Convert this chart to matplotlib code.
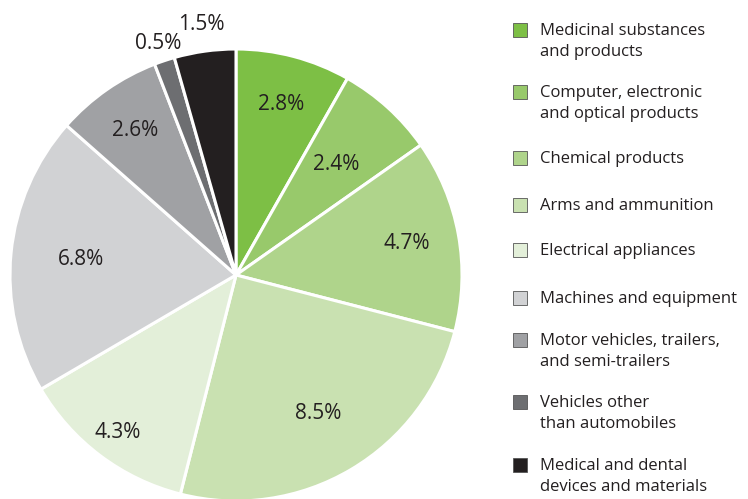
import numpy as np
import matplotlib.pyplot as plt

plt.rcParams['font.family'] = ['Open Sans', 'DejaVu Sans']

# export shares by product group
categories = [
    "Medicinal substances\nand products",
    "Computer, electronic\nand optical products",
    "Chemical products",
    "Arms and ammunition",
    "Electrical appliances",
    "Machines and equipment",
    "Motor vehicles, trailers,\nand semi-trailers",
    "Vehicles other\nthan automobiles",
    "Medical and dental\ndevices and materials",
]
shares = [2.8, 2.4, 4.7, 8.5, 4.3, 6.8, 2.6, 0.5, 1.5]
colors = ["#7dbf45", "#98c96b", "#afd48b", "#c9e1b1", "#e3efd9",
          "#d1d2d4", "#a0a1a4", "#6d6e71", "#231f20"]
label_r = [0.78, 0.66, 0.77, 0.71, 0.87, 0.69, 0.78, 1.08, 1.12]

fig = plt.figure(figsize=(7.48, 4.99), dpi=100)
ax = fig.add_axes([10 / 748, -2 / 499, 452 / 748, 452 / 499])

wedges, _ = ax.pie(shares, colors=colors, startangle=90, counterclock=False,
                   wedgeprops=dict(edgecolor="white", linewidth=2.2))
ax.set_xlim(-1, 1)
ax.set_ylim(-1, 1)
ax.set_aspect("equal")

for w, val, r in zip(wedges, shares, label_r):
    ang = np.deg2rad((w.theta1 + w.theta2) / 2)
    ax.text(r * np.cos(ang), r * np.sin(ang), f"{val}%", ha="center",
            va="center", fontsize=15, color="#231f20", clip_on=False)

# legend drawn by hand: square swatch plus wrapped label
legend_y = [30, 92, 158, 205, 250, 298, 340, 402, 465]
for col, name, y in zip(colors, categories, legend_y):
    fig.patches.append(plt.Rectangle((513 / 748, 1 - (y + 7) / 499),
                                     14 / 748, 14 / 499, transform=fig.transFigure,
                                     facecolor=col, edgecolor="#555555", linewidth=0.6))
    fig.text(540 / 748, 1 - (y - 7) / 499, name, ha="left", va="top",
             fontsize=12, color="#231f20", linespacing=1.38)

fig.savefig("out.png", dpi=100)
